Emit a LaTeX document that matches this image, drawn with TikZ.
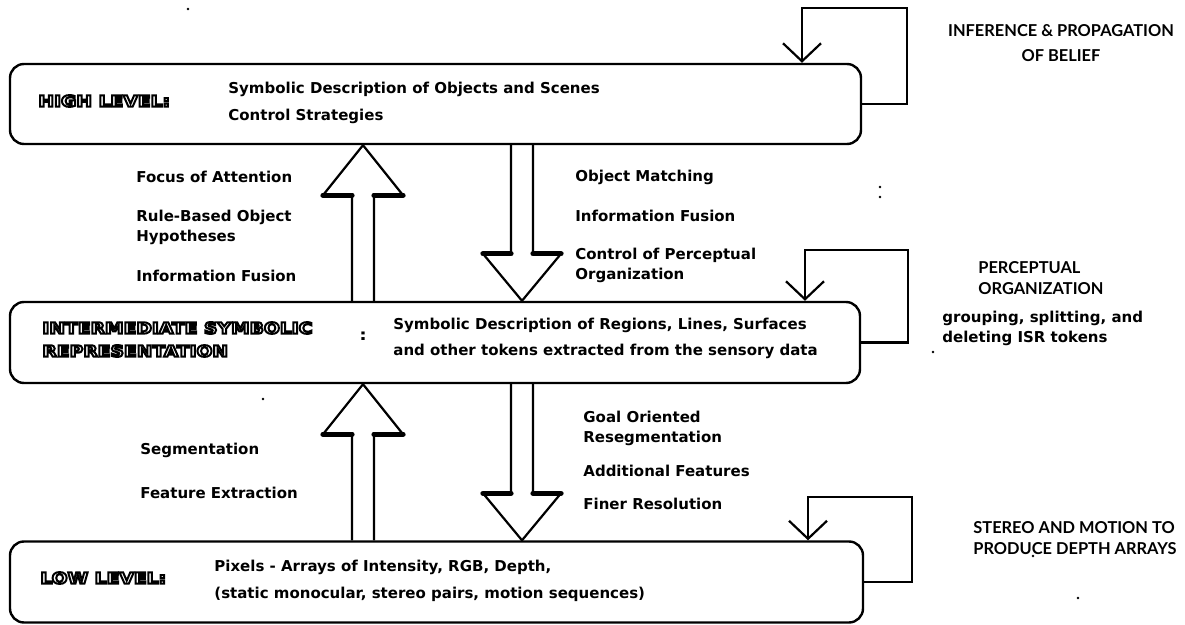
\documentclass[tikz,border=0pt]{standalone}
\usepackage{fontspec}
\setmainfont{DejaVu Sans}
\newfontfamily\capsfont{Lato}
\newfontfamily\titlefont{DejaVu Sans}[FakeStretch=1.2]
\usetikzlibrary{arrows.meta,calc}
% outlined (stroked) lettering for the level titles
\newcommand{\hollow}[1]{\special{pdf:literal direct 1 Tr 1.0 w}#1\special{pdf:literal direct 0 Tr}}
% hollow block arrow pointing up: #1 = tip, #2 = foot of the shaft
\newcommand{\blockup}[2]{%
  \draw[blk] ($(#2)+(-11,0)$) -- ($(#1)+(-11,50)$) -- ($(#1)+(-40,50)$) -- (#1)
        -- ($(#1)+(40,50)$) -- ($(#1)+(11,50)$) -- ($(#2)+(11,0)$);
  \draw[bar] ($(#1)+(-40,50)$) -- ($(#1)+(-11,50)$) ($(#1)+(11,50)$) -- ($(#1)+(40,50)$);}
% hollow block arrow pointing down: #1 = tip, #2 = top of the shaft
\newcommand{\blockdown}[2]{%
  \draw[blk] ($(#2)+(-11,0)$) -- ($(#1)+(-11,-47)$) -- ($(#1)+(-39,-47)$) -- (#1)
        -- ($(#1)+(39,-47)$) -- ($(#1)+(11,-47)$) -- ($(#2)+(11,0)$);
  \draw[bar] ($(#1)+(-39,-47)$) -- ($(#1)+(-11,-47)$) ($(#1)+(11,-47)$) -- ($(#1)+(39,-47)$);}
\begin{document}
\begin{tikzpicture}[x=0.5pt,y=-0.5pt,
  level/.style={draw, line width=1.2pt, rounded corners=7pt, inner sep=0pt},
  blk/.style={line width=1.1pt, line join=miter},
  bar/.style={line width=2.6pt, line cap=round},
  fb/.style={line width=1.1pt, -{Straight Barb[length=9pt,width=19pt,line width=1.1pt]}},
  title/.style={anchor=west, inner sep=0pt, font=\titlefont\bfseries\fontsize{7.8}{11.5}\selectfont},
  lbl/.style={anchor=west, inner sep=0pt, font=\bfseries\fontsize{7.5}{10}\selectfont},
  capslbl/.style={inner sep=0pt, font=\capsfont\bfseries\fontsize{8.2}{10.5}\selectfont},
  speck/.style={fill, circle, inner sep=0pt, minimum size=1.4pt}]
\useasboundingbox (0,0) rectangle (1185,625);

% the three levels
\node[level, minimum width=425.5pt, minimum height=40pt] (high) at (435.5,104) {};
\node[level, minimum width=425pt, minimum height=40.5pt] (mid) at (435,342.5) {};
\node[level, minimum width=426.5pt, minimum height=40.5pt] (low) at (436.5,582) {};

% high level text
\node[title] (hname) at (38,101) {\hollow{HIGH LEVEL:}};
\node[lbl] (h1) at (228,89) {Symbolic Description of Objects and Scenes};
\node[lbl] (h2) at (228,116) {Control Strategies};

% intermediate level text
\node[title] (mname1) at (42,328) {\hollow{INTERMEDIATE SYMBOLIC}};
\node[title] (mname2) at (42,351) {\hollow{REPRESENTATION}};
\node[title] (mcolon) at (359,336) {:};
\node[lbl] (m1) at (393,325) {Symbolic Description of Regions, Lines, Surfaces};
\node[lbl] (m2) at (393,351) {and other tokens extracted from the sensory data};

% low level text
\node[title] (lname) at (40,578) {\hollow{LOW LEVEL:}};
\node[lbl] (l1) at (214,567) {Pixels - Arrays of Intensity, RGB, Depth,};
\node[lbl] (l2) at (214,594) {(static monocular, stereo pairs, motion sequences)};

% block arrows between the levels
\coordinate (ux) at (363,0);
\coordinate (dx) at (522,0);
\coordinate (t1) at (high.south -| ux);
\coordinate (f1) at (mid.north -| ux);
\coordinate (t2) at (mid.north -| dx);
\coordinate (f2) at (high.south -| dx);
\coordinate (t3) at (mid.south -| ux);
\coordinate (f3) at (low.north -| ux);
\coordinate (t4) at (low.north -| dx);
\coordinate (f4) at (mid.south -| dx);
\blockup{t1}{f1}
\blockdown{t2}{f2}
\blockup{t3}{f3}
\blockdown{t4}{f4}

% arrow labels, upper pair
\node[lbl] (a1) at (136,177) {Focus of Attention};
\node[lbl, align=left] (a2) at (136,227) {Rule-Based Object\\Hypotheses};
\node[lbl] (a3) at (136,276) {Information Fusion};
\node[lbl] (b1) at (575,177) {Object Matching};
\node[lbl] (b2) at (575,216) {Information Fusion};
\node[lbl, align=left] (b3) at (575,265) {Control of Perceptual\\Organization};

% arrow labels, lower pair
\node[lbl] (c1) at (140,450) {Segmentation};
\node[lbl] (c2) at (140,493) {Feature Extraction};
\node[lbl, align=left] (d1) at (583,428) {Goal Oriented\\Resegmentation};
\node[lbl] (d2) at (583,471) {Additional Features};
\node[lbl] (d3) at (583,504) {Finer Resolution};

% feedback loops on each level
\coordinate (hr) at (907,8);
\coordinate (hl) at (802,8);
\draw[fb] (high.east) -| (hr) -- (hl) -- (hl |- high.north);
\coordinate (mr) at (908,250);
\coordinate (ml) at (805,250);
\draw[fb] (mid.east) -| (mr) -- (ml) -- (ml |- mid.north);
\coordinate (lr) at (912,497);
\coordinate (ll) at (808,497);
\draw[fb] (low.east) -| (lr) -- (ll) -- (ll |- low.north);

% loop captions
\node[capslbl, align=center] (r1) at (1061,43) {INFERENCE \& PROPAGATION\\[2pt]OF BELIEF};
\node[capslbl, align=left, anchor=west] (r2) at (978,278) {PERCEPTUAL\\ORGANIZATION};
\node[lbl, align=left] (r3) at (942,328) {grouping, splitting, and\\deleting ISR tokens};
\node[capslbl, align=left, anchor=west] (r4) at (973,538) {STEREO AND MOTION TO\\PRODUCE DEPTH ARRAYS};

% specks
\node[speck] (s1) at (188,9) {};
\node[speck] (s2) at (263,399) {};
\node[speck] (s3) at (880,187) {};
\node[speck] (s4) at (880,197) {};
\node[speck] (s5) at (933,352) {};
\node[speck] (s6) at (1033,556) {};
\node[speck] (s7) at (1078,598) {};
\node[speck] (s8) at (1094,52) {};
\end{tikzpicture}
\end{document}
